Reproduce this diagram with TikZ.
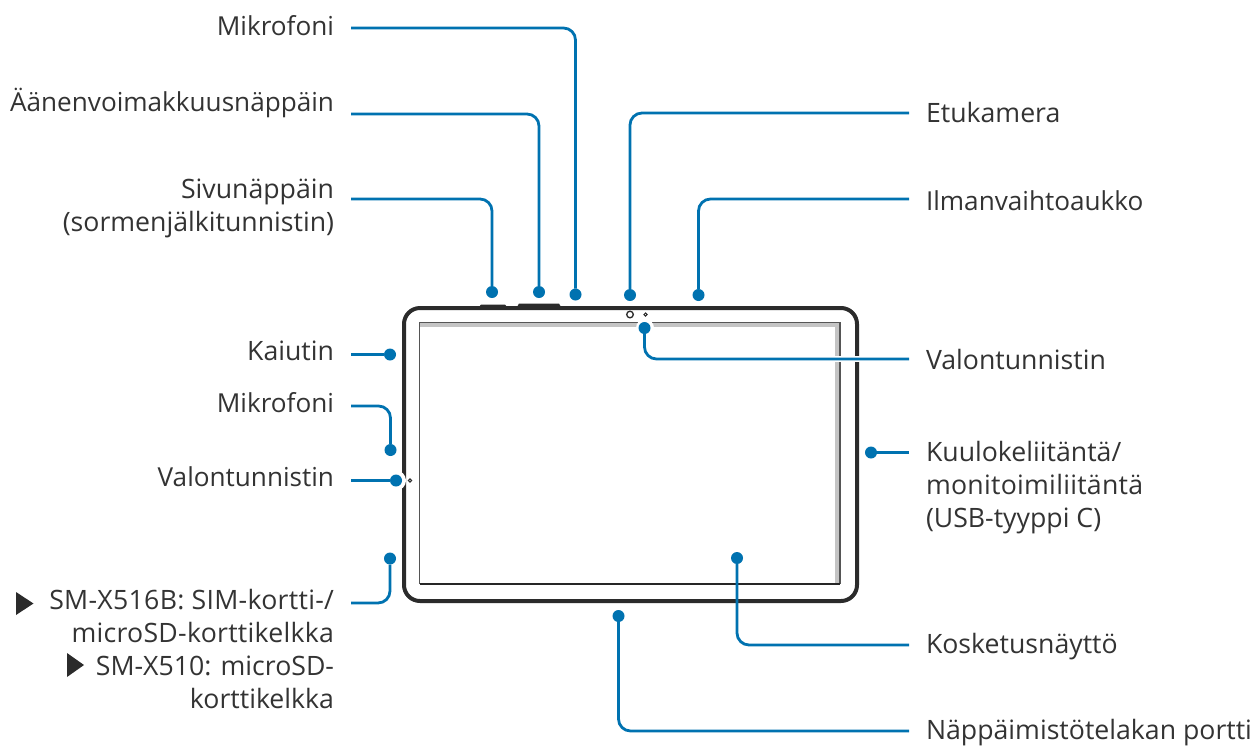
\documentclass[tikz,border=0pt]{standalone}
\usepackage{fontspec}
\setmainfont{Open Sans}
\definecolor{lead}{HTML}{0072B0}
\definecolor{body}{HTML}{2B2B2B}
\definecolor{band}{HTML}{C4C4C4}
\definecolor{edge}{HTML}{555555}
\newcommand{\slimtext}{\fontsize{19.6pt}{24.75pt}\selectfont}
\newcommand{\spaced}[2]{{\addfontfeatures{LetterSpace=#1}#2}}
\tikzset{
  x=0.75pt,y=-0.75pt,
  lbl/.style={font=\fontsize{20pt}{24.75pt}\selectfont,text=black!80,inner ysep=0pt,inner xsep=12.75pt,outer sep=0pt},
  lleft/.style={lbl,anchor=east,align=right},
  lright/.style={lbl,anchor=west,align=left},
  dot/.style={circle,fill=lead,draw=none,minimum size=9pt,inner sep=0pt,outer sep=0pt},
  leader/.style={draw=lead,line width=2.1pt,rounded corners=9pt},
  halo/.style={draw=white,line width=4.5pt},
  frame/.style={draw=body,line width=3pt,rounded corners=12pt}
}
\begin{document}
\begin{tikzpicture}
\useasboundingbox (0,0) rectangle (1259,747);
% tablet
\draw[frame] (404,308) rectangle (857,601);
\fill[body] (479,307) -- (481,304.5) -- (505,304.5) -- (507,307) -- cycle;
\fill[body] (517,307) -- (519,303.5) -- (559,303.5) -- (561,307) -- cycle;
\fill[band] (419,322) rectangle (840,327);
\fill[band] (835,322) rectangle (840,584);
\draw[edge,line width=1pt] (419.5,584) -- (419.5,322.5) -- (840,322.5) -- (840,584);
\draw[black!85,line width=0.9pt] (419.5,584) -- (840,584);
\draw[body,line width=1pt] (630,314.5) circle (3.3);
\draw[body,line width=0.7pt] (645.5,314.5) circle (1.6);
\draw[body,line width=0.8pt] (410,480.5) circle (1.7);
% halo spots
\fill[white] (645,328) circle (9);
\fill[white] (396,480.5) circle (10);
% bullets of the tray label
\fill[body] (16,592) -- (33.5,603.5) -- (16,615) -- cycle;
\fill[body] (67,653) -- (84,665) -- (67,677) -- cycle;
% dots
\node[dot] (dMicT) at (575.5,294.5) {};
\node[dot] (dVol) at (539,292) {};
\node[dot] (dSide) at (492,292) {};
\node[dot] (dCam) at (630,295) {};
\node[dot] (dVent) at (698.5,295) {};
\node[dot] (dLightT) at (644.5,328) {};
\node[dot] (dSpk) at (390,354.5) {};
\node[dot] (dMicL) at (390.5,450) {};
\node[dot] (dLightL) at (396,480.5) {};
\node[dot] (dSim) at (390,558.5) {};
\node[dot] (dJack) at (871,452.5) {};
\node[dot] (dTouch) at (737,558) {};
\node[dot] (dDock) at (618.5,616) {};
% labels
\node[lleft] (lMicT) at (351,26) {\slimtext Mikrofoni};
\node[lleft] (lVol) at (351,103) {\slimtext Äänenvoimakkuusnäppäin};
\node[lleft] (lSide) at (351,208) {Sivunäppäin\\(sormenjälkitunnistin)};
\node[lleft] (lSpk) at (351,351) {Kaiutin};
\node[lleft] (lMicL) at (351,403) {\slimtext Mikrofoni};
\node[lleft] (lLightL) at (351,477) {\slimtext Valontunnistin};
\node[lleft] (lSim) at (351,649) {\spaced{1.1}{SM-X516B: SIM-kortti-/}\\\spaced{1}{microSD-korttikelkka}\\SM-X510: microSD-\\korttikelkka};
\node[lright] (lCam) at (909,112) {Etukamera};
\node[lright] (lVent) at (909,201) {\slimtext Ilmanvaihtoaukko};
\node[lright] (lLightT) at (909,359) {Valontunnistin};
\node[lright] (lJack) at (909,487.5) {Kuulokeliitäntä/\\\spaced{1}{monitoimiliitäntä}\\(USB-tyyppi C)};
\node[lright] (lTouch) at (909,647) {Kosketusnäyttö};
\node[lright] (lDock) at (909,733) {Näppäimistötelakan portti};
% connectors
\draw[leader] ([yshift=-1.5pt]lMicT.east) -| (dMicT);
\draw[leader] ([yshift=-8.25pt]lVol.east) -| (dVol);
\draw[leader] ([yshift=6.75pt]lSide.east) -| (dSide);
\draw[leader] ([yshift=-0.75pt]lCam.west) -| (dCam);
\draw[leader] ([yshift=1.5pt]lVent.west) -| (dVent);
\draw[halo] (lLightT.west) -- (700,359);
\draw[leader] (lLightT.west) -| (dLightT);
\draw[leader] (lSpk.east |- dSpk) -- (dSpk);
\draw[leader] ([yshift=-2.25pt]lMicL.east) -| (dMicL);
\draw[leader] (lLightL.east |- dLightL) -- (dLightL);
\draw[leader] ([yshift=34.5pt]lSim.east) -| (dSim);
\draw[leader] (lJack.west |- dJack) -- (dJack);
\draw[leader] ([yshift=1.5pt]lTouch.west) -| (dTouch);
\draw[leader] ([yshift=1.5pt]lDock.west) -| (dDock);
\end{tikzpicture}
\end{document}
